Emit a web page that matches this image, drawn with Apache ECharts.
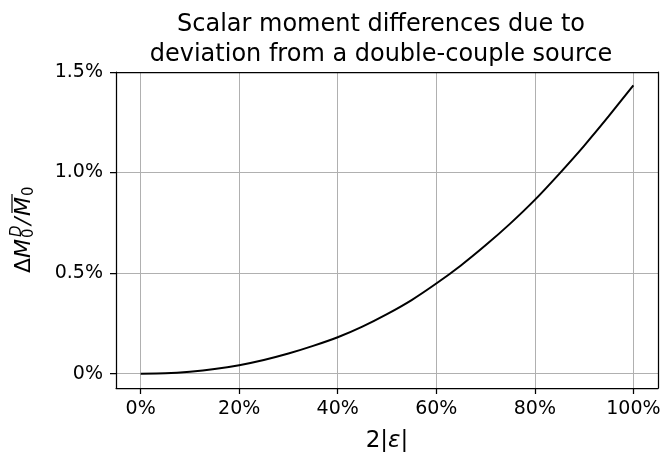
<!DOCTYPE html>
<html>
<head>
<meta charset="utf-8">
<script src="https://cdn.jsdelivr.net/npm/echarts@6/dist/echarts.min.js"></script>
<style>
  html, body { margin: 0; padding: 0; background: #fff; }
  #chart { width: 662px; height: 455px; }
</style>
</head>
<body>
<div id="chart"></div>
<script>
// 2|ε| in percent, and the relative scalar moment difference in percent
const xPercent = [0, 5, 10, 15, 20, 25, 30, 35, 40, 45, 50, 55, 60, 65, 70, 75, 80, 85, 90, 95, 100];
const dMoment = [0, 0.002, 0.010, 0.023, 0.042, 0.068, 0.100, 0.138, 0.181, 0.234, 0.296, 0.366,
                 0.448, 0.538, 0.638, 0.746, 0.864, 0.995, 1.133, 1.280, 1.434];
const xTicks = [0, 20, 40, 60, 80, 100];
const yTicks = [0, 0.5, 1.0, 1.5];

const FONT = 'DejaVu Sans';
const X_MIN = -5, X_MAX = 105;
const Y_MAX = 1.5, Y_MIN = -0.0714;

const chart = echarts.init(document.getElementById('chart'), null, { renderer: 'canvas' });

const frameLine = { show: true, onZero: false, lineStyle: { color: '#000', width: 1.25 } };
const tickStyle = { color: '#000', width: 1.25 };
const gridLineStyle = { color: '#b0b0b0', width: 1 };

const fmtY = v => (v === 0 ? '0%' : v.toFixed(1) + '%');

chart.setOption({
  animation: false,
  backgroundColor: '#fff',
  title: {
    text: 'Scalar moment differences due to\ndeviation from a double-couple source',
    left: 376,
    top: 5,
    textAlign: 'center',
    textStyle: { fontFamily: FONT, fontSize: 24, fontWeight: 'normal', color: '#000', lineHeight: 30 }
  },
  grid: { left: 116, top: 72, width: 542, height: 316, containLabel: false, outerBoundsMode: 'none' },
  xAxis: [
    {
      type: 'value', min: X_MIN, max: X_MAX, position: 'bottom',
      axisLine: frameLine,
      axisTick: { show: true, length: 6, inside: false, customValues: xTicks, lineStyle: tickStyle },
      axisLabel: { customValues: xTicks, formatter: v => v + '%', fontFamily: FONT, fontSize: 19, color: '#000', margin: 12 },
      splitLine: { show: true, lineStyle: gridLineStyle },
      name: '{n|2|}{e|ε}{n||}', nameLocation: 'middle', nameGap: 42,
      nameTextStyle: {
        fontFamily: FONT, fontSize: 23, color: '#000',
        rich: {
          n: { fontFamily: FONT, fontSize: 23, color: '#000' },
          e: { fontFamily: FONT, fontSize: 23, fontStyle: 'italic', color: '#000' }
        }
      }
    },
    {
      type: 'value', min: X_MIN, max: X_MAX, position: 'top',
      axisLine: frameLine, axisTick: { show: false }, axisLabel: { show: false }, splitLine: { show: false }
    }
  ],
  yAxis: [
    {
      type: 'value', min: Y_MIN, max: Y_MAX, position: 'left',
      axisLine: frameLine,
      axisTick: { show: true, length: 6, inside: false, customValues: yTicks, lineStyle: tickStyle },
      axisLabel: { customValues: yTicks, formatter: fmtY, fontFamily: FONT, fontSize: 19, color: '#000', margin: 13 },
      splitLine: { show: true, lineStyle: gridLineStyle }
    },
    {
      type: 'value', min: Y_MIN, max: Y_MAX, position: 'right',
      axisLine: frameLine, axisTick: { show: false }, axisLabel: { show: false }, splitLine: { show: false }
    }
  ],
  series: [{
    type: 'line',
    xAxisIndex: 0,
    yAxisIndex: 0,
    data: xPercent.map((x, i) => [x, dMoment[i]]),
    showSymbol: false,
    smooth: 0.2,
    lineStyle: { color: '#000', width: 2 },
    z: 5
  }],
  // y-axis label ΔM₀ᴰ / M̄₀, set as rotated math-style text
  graphic: [{
    type: 'group',
    x: 24, y: 228,
    rotation: Math.PI / 2,
    children: [
      { type: 'text', x: -45, y: 0, style: { text: 'Δ', font: '22px "DejaVu Sans"', fill: '#000', verticalAlign: 'middle' } },
      { type: 'text', x: -30, y: 0, style: { text: 'M', font: 'italic 22px "DejaVu Sans"', fill: '#000', verticalAlign: 'middle' } },
      { type: 'text', x: -9, y: -7, style: { text: 'D', font: 'italic 15px "DejaVu Sans"', fill: '#000', verticalAlign: 'middle' } },
      { type: 'text', x: -10, y: 5, style: { text: '0', font: '15px "DejaVu Sans"', fill: '#000', verticalAlign: 'middle' } },
      { type: 'text', x: 3, y: 0, style: { text: '/', font: 'italic 22px "DejaVu Sans"', fill: '#000', verticalAlign: 'middle' } },
      { type: 'text', x: 12, y: 0, style: { text: 'M', font: 'italic 22px "DejaVu Sans"', fill: '#000', verticalAlign: 'middle' } },
      { type: 'line', shape: { x1: 15, y1: -12, x2: 34, y2: -12 }, style: { stroke: '#000', lineWidth: 1.2 } },
      { type: 'text', x: 32, y: 5, style: { text: '0', font: '15px "DejaVu Sans"', fill: '#000', verticalAlign: 'middle' } }
    ]
  }]
});
</script>
</body>
</html>
